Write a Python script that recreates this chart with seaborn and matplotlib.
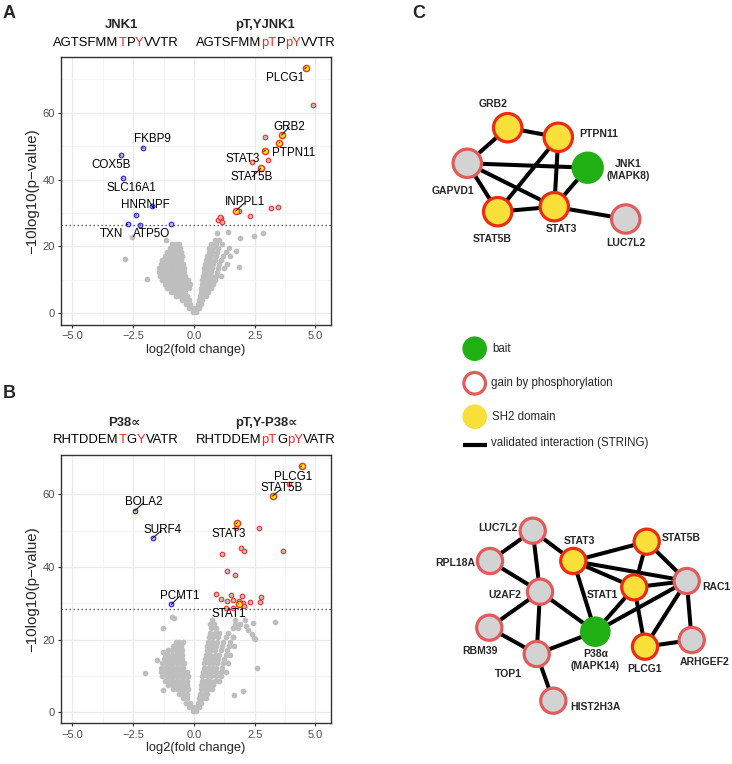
import matplotlib
matplotlib.use('Agg')
import matplotlib.pyplot as plt
import seaborn as sns
from matplotlib.patches import Circle

sns.set_theme(style='white')
plt.rcParams['font.family'] = ['Liberation Sans', 'DejaVu Sans']
plt.rcParams['axes.unicode_minus'] = True

# ---------------- Panel A data (JNK1) ----------------
a_sh2_names = ['PLCG1', 'GRB2', 'PTPN11', 'STAT3', 'STAT5B', 'INPPL1']
a_sh2_x = [4.63, 3.61, 3.51, 2.94, 2.75, 1.72]
a_sh2_y = [73.5, 53.3, 51.1, 48.7, 43.4, 30.6]
a_up_x = [4.88, 2.93, 3.03, 2.40, 1.84, 2.31, 3.18, 3.47, 1.00, 1.12, 1.17, 1.07]
a_up_y = [62.3, 52.8, 45.9, 45.2, 30.7, 29.1, 31.6, 31.8, 27.8, 28.4, 27.4, 28.7]
a_down_names = ['FKBP9', 'COX5B', 'SLC16A1', 'HNRNPF', '', 'TXN', 'ATP5O', '']
a_down_x = [-2.11, -3.02, -2.93, -2.39, -1.74, -2.72, -2.22, -0.93]
a_down_y = [49.4, 47.3, 40.4, 29.4, 32.1, 26.7, 26.5, 26.6]
a_threshold = 26.3
a_label_pos = {'PLCG1': (3.75, 70.4), 'GRB2': (3.93, 55.9), 'PTPN11': (4.09, 48.1),
               'STAT3': (2.0, 46.3), 'STAT5B': (2.38, 40.7), 'INPPL1': (2.10, 33.2),
               'FKBP9': (-1.70, 52.3), 'COX5B': (-3.43, 44.5), 'SLC16A1': (-2.57, 37.6),
               'HNRNPF': (-2.0, 32.3), 'TXN': (-3.39, 23.6), 'ATP5O': (-1.76, 23.6)}

grey_a_rows = [
    (0.4, [-0.05, 0.08]),
    (1.5, [-0.2, -0.06, 0.1, 0.2]),
    (2.7, [-0.32, -0.18, 0.16, 0.28]),
    (3.9, [-0.5, -0.36, -0.22, 0.2, 0.34]),
    (5.1, [-0.75, -0.6, -0.45, -0.3, 0.24, 0.38, 0.5]),
    (6.3, [-0.95, -0.8, -0.65, -0.5, -0.35, 0.28, 0.42, 0.56]),
    (7.5, [-1.1, -0.95, -0.8, -0.65, -0.5, -0.35, -0.22, 0.3, 0.45, 0.6, 0.72]),
    (8.7, [-1.2, -1.05, -0.9, -0.75, -0.6, -0.45, -0.3, -0.18, 0.32, 0.48, 0.62, 0.8]),
    (9.9, [-1.3, -1.15, -1.0, -0.85, -0.7, -0.55, -0.4, -0.26, 0.35, 0.5, 0.66, 0.85]),
    (11.1, [-1.4, -1.25, -1.1, -0.95, -0.8, -0.65, -0.5, -0.35, 0.36, 0.52, 0.7, 0.9, 1.1]),
    (12.3, [-1.45, -1.3, -1.15, -1.0, -0.85, -0.7, -0.55, -0.4, 0.4, 0.55, 0.72, 0.95]),
    (13.5, [-1.45, -1.3, -1.15, -1.0, -0.85, -0.7, -0.55, -0.42, 0.42, 0.58, 0.75, 1.0, 1.25]),
    (14.7, [-1.35, -1.2, -1.05, -0.9, -0.75, -0.6, -0.45, 0.45, 0.6, 0.8, 1.05, 1.35]),
    (15.9, [-1.3, -1.15, -1.0, -0.85, -0.7, -0.55, 0.5, 0.66, 0.85, 1.1]),
    (17.1, [-1.2, -1.05, -0.9, -0.75, -0.6, -0.5, 0.55, 0.7, 0.9, 1.2, 1.5]),
    (18.3, [-1.1, -0.95, -0.8, -0.65, -0.52, 0.6, 0.75, 0.95, 1.3]),
    (19.5, [-1.0, -0.85, -0.7, -0.58, 0.62, 0.8, 1.0, 1.45]),
    (20.7, [-0.9, -0.75, -0.62, 0.7, 0.9, 1.15]),
    (22.0, [-1.13, 0.85, 1.05]),
]
grey_a_extra_x = [-2.84, -1.92, -2.54, 0.93, 1.41, 1.89, 2.48, 2.86, 1.75, 1.85]
grey_a_extra_y = [16.2, 10.2, 22.9, 24.0, 24.2, 22.4, 23.1, 24.0, 18.5, 13.8]

# ---------------- Panel B data (P38) ----------------
b_sh2_names = ['PLCG1', 'STAT5B', 'STAT3', 'STAT1']
b_sh2_x = [4.43, 3.24, 1.78, 1.84]
b_sh2_y = [67.8, 59.5, 52.2, 29.9]
b_up_x = [3.93, 1.72, 2.69, 1.15, 1.95, 2.04, 3.68, 1.36, 1.68, 0.92, 1.12, 1.38, 1.52,
          1.62, 1.84, 1.99, 2.01, 2.31, 2.77, 2.72, 2.06, 1.33, 1.62]
b_up_y = [62.7, 50.8, 50.6, 43.7, 45.3, 44.4, 44.4, 39.0, 37.9, 32.5, 31.1, 30.6, 32.2,
          31.0, 30.6, 32.1, 30.0, 30.5, 31.8, 30.4, 29.3, 28.6, 28.6]
b_down_names = ['BOLA2', 'SURF4', 'PCMT1']
b_down_x = [-2.43, -1.70, -0.93]
b_down_y = [55.5, 47.9, 29.7]
b_threshold = 28.4
b_label_pos = {'PLCG1': (4.09, 64.8), 'STAT5B': (3.61, 61.6), 'STAT3': (1.41, 49.2),
               'STAT1': (1.45, 27.2), 'BOLA2': (-2.05, 57.8), 'SURF4': (-1.31, 50.2),
               'PCMT1': (-0.58, 32.0)}

grey_b_rows = [
    (0.4, [-0.05, 0.08]),
    (1.5, [-0.2, -0.06, 0.1, 0.22]),
    (2.7, [-0.32, -0.18, 0.16, 0.3]),
    (3.9, [-0.45, -0.3, 0.2, 0.36, 0.5]),
    (5.1, [-0.6, -0.45, -0.3, 0.25, 0.4, 0.55]),
    (6.3, [-0.85, -0.7, -0.55, -0.4, -0.26, 0.28, 0.44, 0.6, 0.75]),
    (7.5, [-1.05, -0.9, -0.75, -0.6, -0.45, -0.3, 0.3, 0.46, 0.62, 0.8]),
    (8.7, [-1.2, -1.05, -0.9, -0.75, -0.6, -0.45, -0.3, 0.33, 0.5, 0.66, 0.85, 1.05]),
    (9.9, [-1.3, -1.15, -1.0, -0.85, -0.7, -0.55, -0.4, -0.25, 0.35, 0.52, 0.7, 0.9, 1.1]),
    (11.1, [-1.35, -1.2, -1.05, -0.9, -0.75, -0.6, -0.45, -0.3, 0.38, 0.55, 0.72, 0.9, 1.1, 1.3]),
    (12.3, [-1.35, -1.2, -1.05, -0.9, -0.75, -0.6, -0.45, 0.4, 0.56, 0.74, 0.92, 1.15]),
    (13.5, [-1.3, -1.15, -1.0, -0.85, -0.7, -0.55, -0.42, 0.42, 0.6, 0.78, 0.95, 1.2, 1.4]),
    (14.7, [-1.25, -1.1, -0.95, -0.8, -0.65, -0.5, 0.45, 0.62, 0.8, 1.0, 1.25]),
    (15.9, [-1.2, -1.05, -0.9, -0.75, -0.6, -0.48, 0.48, 0.65, 0.85, 1.05, 1.3, 1.5]),
    (17.1, [-1.05, -0.9, -0.75, -0.6, -0.48, 0.52, 0.7, 0.88, 1.1, 1.35]),
    (18.3, [-0.85, -0.7, -0.55, 0.55, 0.72, 0.9, 1.15, 1.45, 1.65]),
    (19.5, [-0.75, -0.6, -0.45, 0.58, 0.75, 0.95, 1.2, 1.5]),
    (20.7, [0.62, 0.8, 1.0, 1.3, 1.6]),
    (21.9, [0.65, 0.85, 1.05, 1.4]),
    (23.1, [0.7, 0.9, 1.6, 1.8]),
    (24.3, [0.65, 0.82, 1.7, 1.9]),
    (25.4, [0.75, 1.7, 2.1]),
]
grey_b_extra_x = [-2.03, -1.26, -0.91, -0.83, -1.51, -1.26, -1.26, 3.34, 2.48, 2.24, 2.43,
                  2.58, 1.66, 2.0, 2.51, 2.4, 2.16, 1.62]
grey_b_extra_y = [10.8, 23.1, 26.2, 26.0, 14.4, 16.7, 6.1, 24.8, 20.4, 22.6, 24.5,
                  12.3, 4.8, 5.9, 20.2, 21.6, 23.9, 20.8]

# ---------------- Panel C data (networks) ----------------
net1_type = {'GRB2': 'sh2', 'PTPN11': 'sh2', 'GAPVD1': 'gain', 'JNK1': 'bait',
             'STAT5B': 'sh2', 'STAT3': 'sh2', 'LUC7L2': 'gain'}
net1_edges = [('GRB2', 'PTPN11'), ('GRB2', 'GAPVD1'), ('GAPVD1', 'JNK1'),
              ('GAPVD1', 'STAT5B'), ('GAPVD1', 'STAT3'), ('PTPN11', 'STAT5B'),
              ('PTPN11', 'STAT3'), ('STAT3', 'JNK1'), ('STAT5B', 'STAT3'),
              ('STAT3', 'LUC7L2')]
net1_text = {'JNK1': 'JNK1\n(MAPK8)'}

net2_type = {'LUC7L2': 'gain', 'RPL18A': 'gain', 'U2AF2': 'gain', 'RBM39': 'gain',
             'TOP1': 'gain', 'HIST2H3A': 'gain', 'P38': 'bait', 'STAT3': 'sh2',
             'STAT5B': 'sh2', 'STAT1': 'sh2', 'RAC1': 'gain', 'PLCG1': 'sh2',
             'ARHGEF2': 'gain'}
net2_edges = [('LUC7L2', 'RPL18A'), ('LUC7L2', 'U2AF2'), ('LUC7L2', 'STAT3'),
              ('RPL18A', 'U2AF2'), ('U2AF2', 'RBM39'), ('U2AF2', 'TOP1'),
              ('U2AF2', 'P38'), ('RBM39', 'TOP1'), ('TOP1', 'P38'),
              ('TOP1', 'HIST2H3A'), ('STAT3', 'P38'), ('STAT3', 'STAT5B'),
              ('STAT3', 'STAT1'), ('STAT3', 'RAC1'), ('STAT1', 'P38'),
              ('STAT1', 'RAC1'), ('STAT1', 'STAT5B'), ('STAT1', 'PLCG1'),
              ('STAT5B', 'RAC1'), ('RAC1', 'P38'), ('RAC1', 'PLCG1'),
              ('RAC1', 'ARHGEF2'), ('PLCG1', 'ARHGEF2')]
net2_text = {'P38': 'P38α\n(MAPK14)'}

legend_items = ['bait', 'gain by phosphorylation', 'SH2 domain',
                'validated interaction (STRING)']

# ---------------- layout (pixel coordinates) ----------------
W, H = 732, 764
fig = plt.figure(figsize=(W / 100, H / 100), dpi=100)


def px_axes(l, t, r, b):
    return fig.add_axes([l / W, 1 - b / H, (r - l) / W, (b - t) / H])


def rows_to_xy(rows, ex, ey):
    xs = [x for y, r in rows for x in r] + list(ex)
    ys = [y for y, r in rows for x in r] + list(ey)
    return xs, ys


GREY = '#BEBEBE'
RED = '#F0302A'


def volcano(ax, grey_rows, gex, gey, down_n, dx, dy, up_x, up_y, sh2_n, sx, sy,
            thr, ylim, lpos):
    gx, gy = rows_to_xy(grey_rows, gex, gey)
    ax.set_xlim(-5.47, 5.64)
    ax.set_ylim(*ylim)
    ax.set_xticks([-5, -2.5, 0, 2.5, 5])
    ax.set_xticklabels(['−5.0', '−2.5', '0.0', '2.5', '5.0'])
    ax.set_yticks([0, 20, 40, 60])
    ax.set_xticks([-3.75, -1.25, 1.25, 3.75], minor=True)
    ax.set_yticks([10, 30, 50, 70], minor=True)
    ax.grid(which='major', color='#EBEBEB', lw=0.9)
    ax.grid(which='minor', color='#F3F3F3', lw=0.5)
    ax.set_axisbelow(True)
    sns.scatterplot(x=gx, y=gy, color=GREY, s=17, linewidth=0, ax=ax, legend=False, zorder=2)
    ax.axhline(thr, ls=(0, (1, 2.2)), color='#333333', lw=0.9, zorder=3)
    sns.scatterplot(x=dx, y=dy, color=GREY, edgecolor='#2222EE', linewidth=0.8, s=11,
                    ax=ax, legend=False, zorder=4)
    sns.scatterplot(x=up_x, y=up_y, color=GREY, edgecolor=RED, linewidth=0.8, s=11,
                    ax=ax, legend=False, zorder=4)
    sns.scatterplot(x=sx, y=sy, color='#FFE800', edgecolor=RED, linewidth=1.0, s=20,
                    ax=ax, legend=False, zorder=5)
    for n, x, y in list(zip(down_n, dx, dy)) + list(zip(sh2_n, sx, sy)):
        if n in lpos:
            ax.annotate(n, xy=(x, y), xytext=lpos[n], ha='center', va='center',
                        fontsize=8.4, color='black', zorder=6,
                        arrowprops=dict(arrowstyle='-', color='black', lw=0.7,
                                        shrinkA=0.5, shrinkB=0))
    for s in ax.spines.values():
        s.set_color('#333333')
        s.set_linewidth(1.0)
    ax.tick_params(which='major', length=2.5, width=0.8, color='#333333',
                   labelcolor='#4D4D4D', labelsize=8, pad=2, bottom=True, left=True)
    ax.tick_params(which='minor', length=0)
    ax.set_xlabel('log2(fold change)', fontsize=9.3, labelpad=2)
    ax.set_ylabel('−10log10(p−value)', fontsize=10.8, labelpad=2)


axA = px_axes(61, 57, 331, 325)
volcano(axA, grey_a_rows, grey_a_extra_x, grey_a_extra_y, a_down_names, a_down_x,
        a_down_y, a_up_x, a_up_y, a_sh2_names, a_sh2_x, a_sh2_y, a_threshold,
        (-3.5, 76.7), a_label_pos)

axB = px_axes(61, 455, 331, 723.3)
volcano(axB, grey_b_rows, grey_b_extra_x, grey_b_extra_y, b_down_names, b_down_x,
        b_down_y, b_up_x, b_up_y, b_sh2_names, b_sh2_x, b_sh2_y, b_threshold,
        (-3.0, 70.8), b_label_pos)

# overlay axis in pixel coordinates for headers, panel letters and networks
ax = fig.add_axes([0, 0, 1, 1])
ax.set_xlim(0, W)
ax.set_ylim(H, 0)
ax.axis('off')
ax.patch.set_alpha(0)
renderer = fig.canvas.get_renderer()


def multicolor(x0, y, parts, fs=9.4):
    x = x0
    for s, c in parts:
        t = ax.text(x, y, s, color=c, fontsize=fs, ha='left', va='center')
        x += t.get_window_extent(renderer).width


HR = '#EE2C2C'
ax.text(121, 25, 'JNK1', fontsize=9.4, weight='bold', ha='center', va='center')
multicolor(53, 43, [('AGTSFMM', 'black'), ('T', HR), ('P', 'black'), ('Y', HR), ('VVTR', 'black')])
ax.text(265, 25, 'pT,YJNK1', fontsize=9.4, weight='bold', ha='center', va='center')
multicolor(196, 43, [('AGTSFMM', 'black'), ('pT', HR), ('P', 'black'), ('pY', HR), ('VVTR', 'black')])

ax.text(124, 423, 'P38∝', fontsize=9.4, weight='bold', ha='center', va='center')
multicolor(53, 440, [('RHTDDEM', 'black'), ('T', HR), ('G', 'black'), ('Y', HR), ('VATR', 'black')])
ax.text(266, 423, 'pT,Y-P38∝', fontsize=9.4, weight='bold', ha='center', va='center')
multicolor(196, 440, [('RHTDDEM', 'black'), ('pT', HR), ('G', 'black'), ('pY', HR), ('VATR', 'black')])

for letter, (lx, ly) in {'A': (9, 14), 'B': (9, 394), 'C': (418.5, 14)}.items():
    ax.text(lx, ly, letter, fontsize=13, weight='bold', ha='center', va='center')

FILL = {'bait': '#20B014', 'sh2': '#F8DF3A', 'gain': '#D3D3D3'}
EDGE = {'bait': 'none', 'sh2': '#EE2B10', 'gain': '#E25A5A'}


def draw_net(types, pos, edges, r, rb, lab_pos, texts):
    for a, b in edges:
        ax.plot([pos[a][0], pos[b][0]], [pos[a][1], pos[b][1]], color='black',
                lw=2.9, zorder=1, solid_capstyle='butt')
    for n, t in types.items():
        if t == 'bait':
            c = Circle(pos[n], rb, facecolor=FILL[t], edgecolor='none', zorder=3)
        else:
            c = Circle(pos[n], r, facecolor=FILL[t], edgecolor=EDGE[t], lw=2.3, zorder=3)
        ax.add_patch(c)
    for n, (tx, ty) in lab_pos.items():
        ax.text(tx, ty, texts.get(n, n), fontsize=7.5, weight='bold', ha='center',
                va='center', linespacing=1.2, zorder=4)


net1_pos = {'GRB2': (507.7, 127.7), 'PTPN11': (558.3, 137.3), 'GAPVD1': (467.3, 163.3),
            'JNK1': (587.7, 167.7), 'STAT5B': (497.7, 211.7), 'STAT3': (554.3, 206.7),
            'LUC7L2': (625.7, 219.0)}
net1_lab = {'GRB2': (493.3, 104), 'PTPN11': (598.3, 134.3), 'JNK1': (628.3, 170),
            'GAPVD1': (453.3, 190.7), 'STAT5B': (492.7, 239), 'STAT3': (561.7, 229.3),
            'LUC7L2': (625.7, 243.3)}
draw_net(net1_type, net1_pos, net1_edges, 14.2, 16.2, net1_lab, net1_text)

net2_pos = {'LUC7L2': (532.7, 530.7), 'RPL18A': (490.0, 561.0), 'U2AF2': (540.0, 591.7),
            'RBM39': (489.3, 627.7), 'TOP1': (536.7, 654.0), 'HIST2H3A': (553.3, 700.7),
            'P38': (595.3, 631.7), 'STAT3': (573.3, 561.0), 'STAT5B': (646.7, 541.7),
            'STAT1': (634.3, 587.3), 'RAC1': (686.7, 581.0), 'PLCG1': (645.0, 646.7),
            'ARHGEF2': (691.7, 640.0)}
net2_lab = {'LUC7L2': (497.7, 527.7), 'STAT3': (579.3, 541), 'STAT5B': (681.7, 537.7),
            'RPL18A': (455, 563.3), 'U2AF2': (505, 595), 'STAT1': (602, 595),
            'RAC1': (716.7, 586.7), 'RBM39': (480, 651.3), 'P38': (595.3, 660),
            'TOP1': (508.3, 674), 'PLCG1': (645, 669), 'ARHGEF2': (704.5, 662.3),
            'HIST2H3A': (595, 706.7)}
draw_net(net2_type, net2_pos, net2_edges, 12.6, 15.3, net2_lab, net2_text)

# legend
ax.add_patch(Circle((474.7, 348.7), 12.3, facecolor=FILL['bait'], edgecolor='none'))
ax.add_patch(Circle((474.7, 383.3), 10.8, facecolor='white', edgecolor=EDGE['gain'], lw=2.3))
ax.add_patch(Circle((474.7, 416.7), 12.3, facecolor=FILL['sh2'], edgecolor='none'))
ax.plot([462.7, 486.7], [444.7, 444.7], color='black', lw=3.0, solid_capstyle='butt')
for txt, (tx, ty) in zip(legend_items, [(492, 349), (490.7, 383.3), (492, 417), (490.7, 443)]):
    ax.text(tx, ty, txt, fontsize=8.3, ha='left', va='center')

fig.savefig('out.png', dpi=100)
